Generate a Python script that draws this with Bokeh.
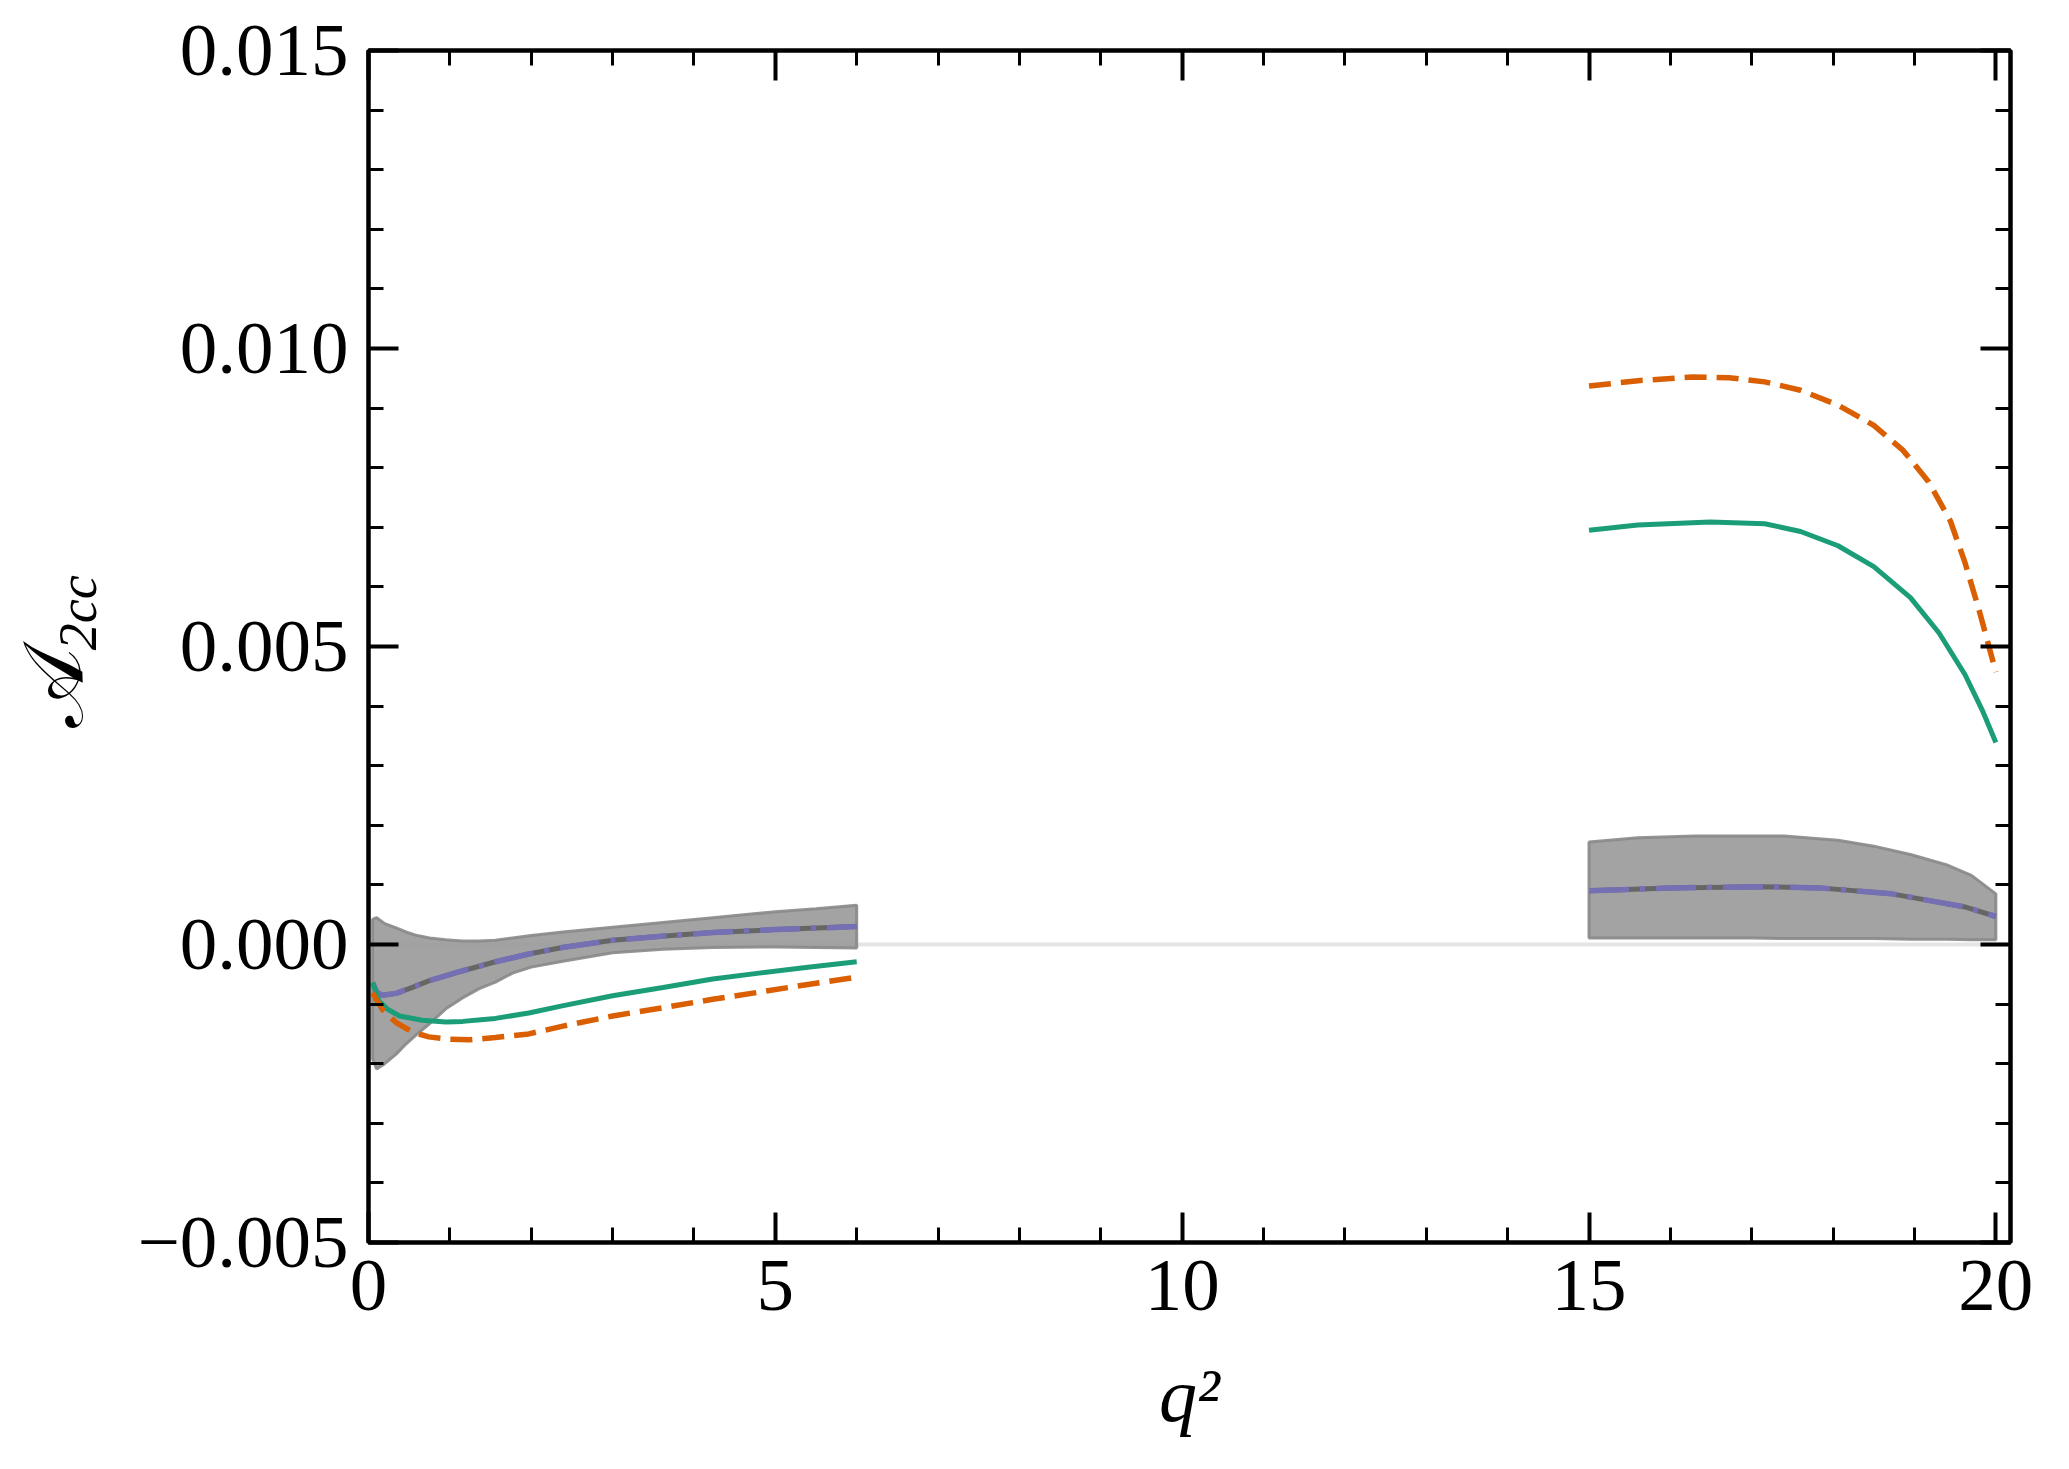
from bokeh.plotting import figure
from bokeh.models import (Range1d, FixedTicker, LinearAxis, Span,
                          CustomJSTickFormatter, CustomLabelingPolicy)
from bokeh.embed import file_html
from bokeh.resources import INLINE

# ---------------- data (values in units of 1e-3) ----------------
# low-q2 region
q_low_band = [0.05, 0.10, 0.20, 0.34, 0.46, 0.60, 0.75, 0.95, 1.15, 1.36, 1.56,
              1.77, 2.00, 2.39, 3.00, 3.62, 4.23, 5.00, 5.50, 6.00]
low_band_upper = [0.42, 0.45, 0.35, 0.28, 0.21, 0.15, 0.11, 0.08, 0.06, 0.06, 0.07,
                  0.11, 0.15, 0.21, 0.29, 0.37, 0.45, 0.55, 0.60, 0.66]
low_band_lower = [-1.92, -2.09, -2.00, -1.84, -1.67, -1.50, -1.33, -1.08, -0.90, -0.74, -0.63,
                  -0.48, -0.38, -0.28, -0.14, -0.08, -0.05, -0.04, -0.05, -0.06]

q_low_center = [0.05, 0.10, 0.17, 0.34, 0.54, 0.74, 1.16, 1.56, 1.97, 2.38, 3.00,
                3.60, 4.23, 5.00, 6.00]
low_center = [-0.64, -0.80, -0.85, -0.82, -0.72, -0.61, -0.44, -0.29, -0.16, -0.05, 0.07,
              0.14, 0.20, 0.25, 0.30]

q_low_green = [0.05, 0.13, 0.24, 0.38, 0.66, 0.95, 1.16, 1.56, 1.97, 2.38, 3.00,
               3.62, 4.23, 4.80, 5.40, 6.00]
low_green = [-0.64, -0.95, -1.09, -1.20, -1.27, -1.30, -1.29, -1.24, -1.15, -1.03, -0.86,
             -0.72, -0.58, -0.48, -0.38, -0.29]

q_low_orange = [0.05, 0.17, 0.34, 0.54, 0.74, 0.99, 1.24, 1.56, 1.97, 2.39, 3.00,
                3.62, 4.23, 4.80, 5.40, 6.00]
low_orange = [-0.81, -1.09, -1.31, -1.47, -1.55, -1.59, -1.60, -1.56, -1.50, -1.37, -1.20,
              -1.06, -0.92, -0.80, -0.67, -0.55]

# high-q2 region
q_high_band = [15.0, 15.6, 16.3, 17.0, 17.4, 18.06, 18.5, 18.95, 19.39, 19.7, 20.0]
high_band_upper = [1.72, 1.79, 1.82, 1.82, 1.82, 1.75, 1.65, 1.51, 1.34, 1.16, 0.85]
high_band_lower = [0.11, 0.11, 0.11, 0.11, 0.10, 0.10, 0.10, 0.09, 0.09, 0.08, 0.08]

q_high_center = [15.0, 16.0, 17.1, 17.83, 18.72, 19.17, 19.62, 20.0]
high_center = [0.90, 0.95, 0.97, 0.95, 0.85, 0.74, 0.63, 0.47]

q_high_green = [15.0, 15.6, 16.49, 17.16, 17.6, 18.06, 18.5, 18.95, 19.3, 19.62, 19.84, 20.0]
high_green = [6.95, 7.04, 7.09, 7.06, 6.93, 6.69, 6.34, 5.82, 5.23, 4.53, 3.91, 3.39]

q_high_orange = [15.0, 15.6, 16.27, 16.72, 17.16, 17.6, 18.06, 18.5, 18.86, 19.17,
                 19.44, 19.62, 19.8, 20.0]
high_orange = [9.37, 9.46, 9.52, 9.51, 9.44, 9.30, 9.05, 8.71, 8.29, 7.77,
               7.11, 6.41, 5.58, 4.57]

x_major = [0, 5, 10, 15, 20]
x_minor = list(range(0, 21))
y_major = [-0.005, 0.0, 0.005, 0.010, 0.015]
y_minor = [round(-0.005 + 0.001 * i, 3) for i in range(21)]

x_label = "q\u00b2"
y_label_main = "\U0001D49C"
y_label_sub = "2cc"

SCALE = 1e-3
NBSP = "\u00a0"


def sc(vals):
    return [v * SCALE for v in vals]


GREEN = "#1b9e77"
ORANGE = "#d95f02"
PURPLE = "#7570b3"
FONT = "Liberation Serif"
TICK_FS = "75px"

p = figure(frame_width=1642, frame_height=1192,
           x_range=Range1d(0, 20.18), y_range=Range1d(-0.005, 0.015),
           output_backend="svg", toolbar_location=None,
           min_border_left=368, min_border_right=43,
           min_border_top=50, min_border_bottom=211,
           background_fill_color="white", border_fill_color="white")
p.grid.visible = False
p.outline_line_color = "black"
p.outline_line_width = 4

xt = FixedTicker(ticks=x_major, minor_ticks=x_minor)
yt = FixedTicker(ticks=y_major, minor_ticks=y_minor)

xfmt = CustomJSTickFormatter(code="return tick.toFixed(0);")
yfmt = CustomJSTickFormatter(
    code="return tick < -1e-9 ? '\u2212' + Math.abs(tick).toFixed(3) : Math.abs(tick).toFixed(3);")

hide_all = CustomLabelingPolicy(code="""
    const n = indices.size
    for (let i = 0; i < n; i++) { indices.unset(i) }
    return indices
""")


def style_axis(ax, ticker, show_labels, fmt=None, standoff=16):
    ax.ticker = ticker
    if fmt is not None:
        ax.formatter = fmt
    ax.axis_line_color = "black"
    ax.axis_line_width = 4
    ax.major_tick_in = 30
    ax.major_tick_out = 0
    ax.major_tick_line_width = 4
    ax.major_tick_line_color = "black"
    ax.minor_tick_in = 15
    ax.minor_tick_out = 0
    ax.minor_tick_line_width = 3
    ax.minor_tick_line_color = "black"
    if show_labels:
        ax.major_label_text_font = FONT
        ax.major_label_text_font_size = TICK_FS
        ax.major_label_text_color = "black"
        ax.major_label_standoff = standoff
    else:
        ax.major_label_policy = hide_all
        ax.major_label_text_font_size = "0px"
        ax.major_label_standoff = 0


style_axis(p.xaxis[0], xt, True, xfmt, standoff=18)
style_axis(p.yaxis[0], yt, True, yfmt, standoff=20)

# x axis label
xa = p.xaxis[0]
xa.axis_label = x_label
xa.axis_label_text_font = FONT
xa.axis_label_text_font_style = "italic"
xa.axis_label_text_font_size = "76px"
xa.axis_label_text_color = "black"
xa.axis_label_standoff = 40

# y axis label: subscript on the main axis, calligraphic A on an outer axis
ya = p.yaxis[0]
ya.axis_label = NBSP * 5 + y_label_sub
ya.axis_label_text_font = FONT
ya.axis_label_text_font_style = "italic"
ya.axis_label_text_font_size = "54px"
ya.axis_label_text_color = "black"
ya.axis_label_standoff = 26

outer = LinearAxis(ticker=FixedTicker(ticks=[]), axis_line_color=None,
                   major_tick_line_color=None, minor_tick_line_color=None,
                   major_label_text_font_size="0px", major_label_standoff=0,
                   major_tick_in=0, major_tick_out=0, minor_tick_in=0, minor_tick_out=0,
                   axis_label=y_label_main + NBSP * 4, axis_label_text_font=FONT,
                   axis_label_text_font_style="normal",
                   axis_label_text_font_size="84px", axis_label_text_color="black",
                   axis_label_standoff=-54)
p.add_layout(outer, "left")

top_ax = LinearAxis()
right_ax = LinearAxis()
style_axis(top_ax, xt, False)
style_axis(right_ax, yt, False)
p.add_layout(top_ax, "above")
p.add_layout(right_ax, "right")

# zero line
p.add_layout(Span(location=0, dimension="width", line_color="#e5e5e5",
                  line_width=4, level="underlay"))


def band(qs, up, lo):
    xs = list(qs) + list(qs)[::-1]
    ys = sc(up) + sc(lo)[::-1]
    p.patch(xs, ys, fill_color="#999999", fill_alpha=0.9,
            line_color="#888888", line_width=3, line_alpha=0.9)


band(q_low_band, low_band_upper, low_band_lower)
band(q_high_band, high_band_upper, high_band_lower)

for qs, vs in [(q_low_center, low_center), (q_high_center, high_center)]:
    p.line(qs, sc(vs), line_color="#666666", line_width=5)
    p.line(qs, sc(vs), line_color=PURPLE, line_width=5.5, line_dash="40 11 5 11")

for qs, vs in [(q_low_green, low_green), (q_high_green, high_green)]:
    p.line(qs, sc(vs), line_color=GREEN, line_width=5)

for qs, vs in [(q_low_orange, low_orange), (q_high_orange, high_orange)]:
    p.line(qs, sc(vs), line_color=ORANGE, line_width=5.5, line_dash="22 10")

open("out.html", "w").write(file_html(p, INLINE))
